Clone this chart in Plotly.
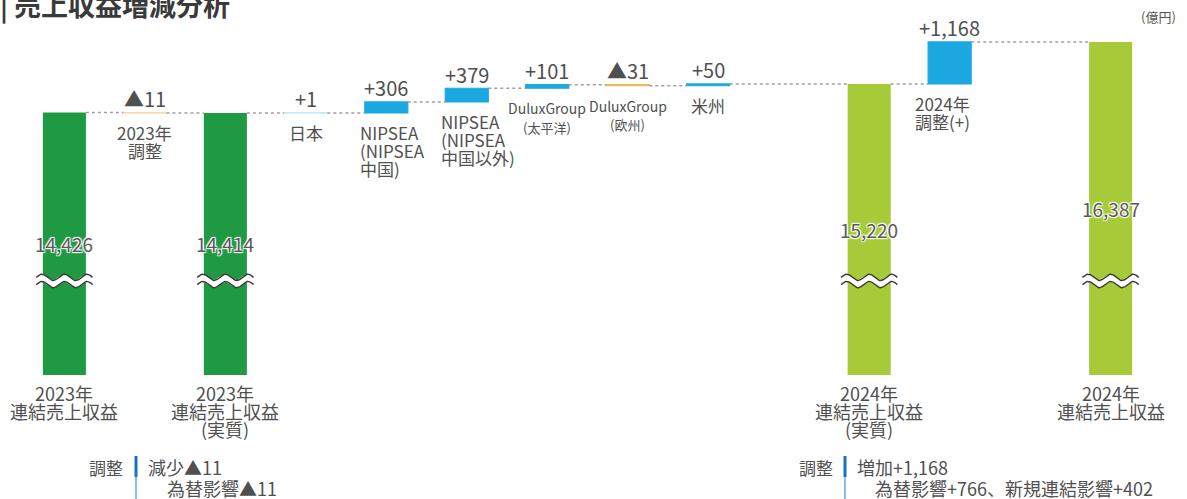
import numpy as np
import plotly.graph_objects as go

# ---------------- data ----------------
title_text = "| 売上収益増減分析"
unit_text = "(億円)"
kinds = ["total", "delta", "total", "delta", "delta", "delta", "delta",
         "delta", "delta", "total", "delta", "total"]
values = [14426, -11, 14414, 1, 306, 379, 101, -31, 50, 15220, 1168, 16387]
cat_lines = [
    ["2023年", "連結売上収益"],
    ["2023年", "調整"],
    ["2023年", "連結売上収益", "(実質)"],
    ["日本"],
    ["NIPSEA", "(NIPSEA", "中国)"],
    ["NIPSEA", "(NIPSEA", "中国以外)"],
    ["DuluxGroup", "(太平洋)"],
    ["DuluxGroup", "(欧州)"],
    ["米州"],
    ["2024年", "連結売上収益", "(実質)"],
    ["2024年", "調整(+)"],
    ["2024年", "連結売上収益"],
]
note_left = ["調整", "減少▲11", "為替影響▲11"]
note_right = ["調整", "増加+1,168", "為替影響+766、新規連結影響+402"]

# ---------------- layout constants ----------------
FONT = "Noto Sans CJK JP"
TXT = "#505050"
W, H = 1187, 499
ML, MR, MT, MB = 0, 12, 30, 124
PW, PH = W - ML - MR, H - MT - MB
X_MIN, X_MAX = -0.8, 13.8
UPP = 27.8                      # value units per pixel
Y_MAX = 16720
Y_MIN = Y_MAX - PH * UPP
slots = [0, 1, 2, 3, 4, 5, 6, 7, 8, 10, 11, 13]
BW = 0.535
total_colors = ["#1f9a43", "#1f9a43", "#a6ca38", "#a6ca38"]
UP_C, DOWN_C = "#1ba8e1", "#f6b660"
left_aligned = {4: -28, 5: -28, 10: -37}


def py_to_paper(py):
    return (MT + PH - py) / PH


def px_to_paper(px):
    return (px - ML) / PW


# running totals
bases, levels = [], []
lvl = None
for k, v in zip(kinds, values):
    if k == "total":
        bases.append(Y_MIN)
        lvl = v
    else:
        bases.append(lvl)
        lvl = lvl + v
    levels.append(lvl)

fig = go.Figure()

# total bars
tot_idx = [i for i, k in enumerate(kinds) if k == "total"]
fig.add_trace(go.Bar(
    x=[slots[i] for i in tot_idx],
    y=[values[i] - Y_MIN for i in tot_idx],
    base=[Y_MIN] * len(tot_idx),
    width=BW,
    marker=dict(color=total_colors, line=dict(width=0)),
    hoverinfo="skip", showlegend=False,
))

# delta bars
d_idx = [i for i, k in enumerate(kinds) if k == "delta"]
d_cols = [UP_C if values[i] >= 0 else DOWN_C for i in d_idx]
d_op = [min(1.0, 0.3 + abs(values[i]) / 45.0) for i in d_idx]
fig.add_trace(go.Bar(
    x=[slots[i] for i in d_idx],
    y=[values[i] for i in d_idx],
    base=[bases[i] for i in d_idx],
    width=BW,
    marker=dict(color=d_cols, opacity=d_op, line=dict(color=d_cols, width=1.2)),
    hoverinfo="skip", showlegend=False,
))

# dotted connectors
cx, cy = [], []
for i in range(len(values) - 1):
    cx += [slots[i] + BW / 2, slots[i + 1] - BW / 2, None]
    cy += [levels[i], levels[i], None]
fig.add_trace(go.Scatter(
    x=cx, y=cy, mode="lines",
    line=dict(color="#a0a0a0", width=1.5, dash="dot"),
    hoverinfo="skip", showlegend=False,
))

# axis-break waves on totals
BRK = Y_MAX - (281 - MT) * UPP
t = np.linspace(0, 1, 80)
for i in tot_idx:
    wx = slots[i] - 0.35 + 0.7 * t
    wave = 3.2 * UPP * np.sin(2 * np.pi * 2.5 * t)
    fig.add_trace(go.Scatter(x=wx, y=BRK + wave, mode="lines",
                             line=dict(color="white", width=7),
                             hoverinfo="skip", showlegend=False))
    for off in (-3.6, 3.6):
        fig.add_trace(go.Scatter(x=wx, y=BRK + wave + off * UPP, mode="lines",
                                 line=dict(color="#3a3a3a", width=1.4),
                                 hoverinfo="skip", showlegend=False))

ann = []


def fmt_val(k, v):
    if k == "total":
        return f"{v:,}"
    return (f"+{v:,}" if v >= 0 else f"▲{abs(v):,}")


HALO = "1px 1px 1px white, -1px -1px 1px white, 1px -1px 1px white, -1px 1px 1px white"

for i, (k, v) in enumerate(zip(kinds, values)):
    if k == "total":
        ann.append(dict(x=slots[i], y=(Y_MIN + v) / 2, xref="x", yref="y",
                        text=fmt_val(k, v), showarrow=False,
                        font=dict(family=FONT, size=19, color="#5a5a5a",
                                  shadow=HALO),
                        xanchor="center", yanchor="middle"))
        for j, line in enumerate(cat_lines[i]):
            ann.append(dict(x=slots[i], y=0, xref="x", yref="paper",
                            yshift=-(18 + 18 * j), text=line, showarrow=False,
                            font=dict(family=FONT, size=18, color=TXT),
                            xanchor="center", yanchor="middle"))
    else:
        top = max(bases[i], bases[i] + v)
        bot = min(bases[i], bases[i] + v)
        ann.append(dict(x=slots[i], y=top, xref="x", yref="y", yshift=14,
                        text=fmt_val(k, v), showarrow=False,
                        font=dict(family=FONT, size=20, color=TXT),
                        xanchor="center", yanchor="middle"))
        lines = cat_lines[i]
        dulux = lines[0] == "DuluxGroup"
        for j, line in enumerate(lines):
            if i in left_aligned:
                xa, xs = "left", left_aligned[i]
            else:
                xa, xs = "center", 0
            size = 17
            if dulux:
                size = 14 if j == 0 else 13
            ann.append(dict(x=slots[i], y=bot, xref="x", yref="y",
                            xshift=xs, yshift=-(20 + (19 if dulux else 18) * j),
                            text=line, showarrow=False,
                            font=dict(family=FONT, size=size, color=TXT),
                            xanchor=xa, yanchor="middle"))

# title and unit
ann.append(dict(x=px_to_paper(-2), y=py_to_paper(5), xref="paper", yref="paper",
                text=title_text, showarrow=False,
                font=dict(family=FONT, size=27, color="#3a3a3a", weight="bold"),
                xanchor="left", yanchor="middle"))
ann.append(dict(x=px_to_paper(1158), y=py_to_paper(17), xref="paper", yref="paper",
                text=unit_text, showarrow=False,
                font=dict(family=FONT, size=13, color="#555555"),
                xanchor="center", yanchor="middle"))

# notes
shapes = []
for note, lab_r, bar_x, l1, l2 in ((note_left, 125, 136, 146, 165),
                                   (note_right, 835, 845, 855, 873)):
    ann.append(dict(x=px_to_paper(lab_r), y=py_to_paper(467), xref="paper", yref="paper",
                    text=note[0], showarrow=False,
                    font=dict(family=FONT, size=17, color=TXT),
                    xanchor="right", yanchor="middle"))
    ann.append(dict(x=px_to_paper(l1), y=py_to_paper(467), xref="paper", yref="paper",
                    text=note[1], showarrow=False,
                    font=dict(family=FONT, size=18, color=TXT),
                    xanchor="left", yanchor="middle"))
    ann.append(dict(x=px_to_paper(l2), y=py_to_paper(488), xref="paper", yref="paper",
                    text=note[2], showarrow=False,
                    font=dict(family=FONT, size=18, color=TXT),
                    xanchor="left", yanchor="middle"))
    shapes.append(dict(type="line", xref="paper", yref="paper",
                       x0=px_to_paper(bar_x), x1=px_to_paper(bar_x),
                       y0=py_to_paper(456), y1=py_to_paper(477),
                       line=dict(color="#1f6fc4", width=3)))
    shapes.append(dict(type="line", xref="paper", yref="paper",
                       x0=px_to_paper(bar_x), x1=px_to_paper(bar_x),
                       y0=py_to_paper(477), y1=py_to_paper(505),
                       line=dict(color="#6aa6dc", width=1.5)))

fig.update_layout(
    width=W, height=H,
    margin=dict(l=ML, r=MR, t=MT, b=MB),
    paper_bgcolor="white", plot_bgcolor="white",
    barmode="overlay",
    xaxis=dict(range=[X_MIN, X_MAX], visible=False, fixedrange=True),
    yaxis=dict(range=[Y_MIN, Y_MAX], visible=False, fixedrange=True),
    annotations=ann, shapes=shapes,
    showlegend=False,
    font=dict(family=FONT, color=TXT),
)

fig.write_html("out.html", config={"displayModeBar": False},
               post_script="document.body.style.margin='0';document.body.style.overflow='hidden';")
